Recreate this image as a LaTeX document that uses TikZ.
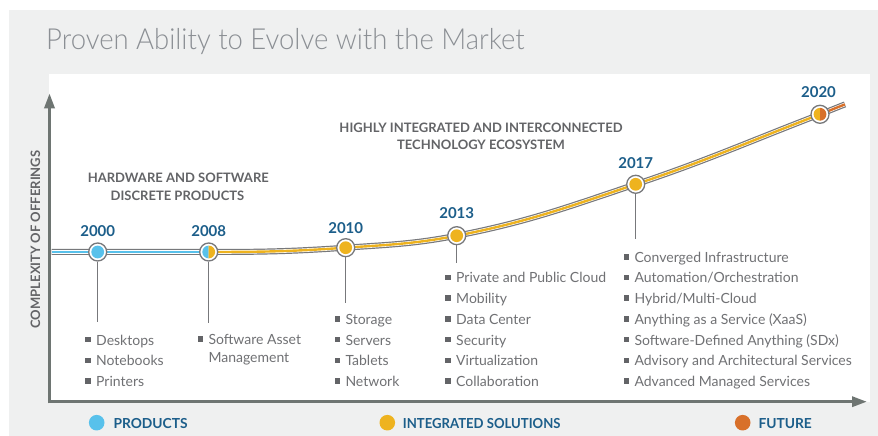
\documentclass[tikz,border=0pt]{standalone}
\usepackage{fontspec}
\setmainfont{Lato}
\newfontfamily\lightfont{Lato Light}
\usetikzlibrary{arrows.meta}
\definecolor{panelgrey}{HTML}{EFF0F0}
\definecolor{axisc}{HTML}{6E7572}
\definecolor{titlec}{HTML}{8B8F94}
\definecolor{yearc}{HTML}{1C5E8A}
\definecolor{hdrc}{HTML}{636467}
\definecolor{textc}{HTML}{707174}
\definecolor{bulc}{HTML}{636467}
\definecolor{linec}{HTML}{77787B}
\definecolor{prodc}{HTML}{58C1EB}
\definecolor{integc}{HTML}{EEB31F}
\definecolor{futc}{HTML}{D8702A}
\newcommand\bul{\makebox[0pt][r]{\textcolor{bulc}{\rule[2.7pt]{5.5pt}{5.5pt}}\hspace{5.3pt}}}
\tikzset{
  item/.style={anchor=base west, inner sep=0pt, text=textc, font=\fontsize{14}{16}\selectfont},
  hdr/.style={anchor=base, inner sep=0pt, text=hdrc, font=\bfseries\fontsize{13}{15}\selectfont},
  year/.style={anchor=base, inner sep=0pt, text=yearc, font=\bfseries\fontsize{15}{17}\selectfont},
  legtext/.style={anchor=base west, inner sep=0pt, text=yearc, font=\bfseries\fontsize{13.8}{16}\selectfont},
  milestone/.style={circle, draw=linec, line width=1.3pt, fill=white, minimum size=18pt, inner sep=0pt},
  dropline/.style={draw=linec, line width=1.4pt},
  axisline/.style={draw=axisc, line width=3.2pt, -{Triangle[length=15pt,width=10pt]}},
  legdot/.style={circle, minimum size=15.6pt, inner sep=0pt},
}
\begin{document}
\begin{tikzpicture}[x=1pt,y=1pt]
\useasboundingbox (0,0) rectangle (878,436);
\fill[white] (0,0) rectangle (878,436);
\fill[panelgrey] (9,0) rectangle (878,426);
\fill[white] (49,34) rectangle (870,362);
% title
\node[anchor=base west, inner sep=0pt, text=titlec, font=\lightfont\fontsize{29}{32}\selectfont] (title) at (46,386.5) {\scalebox{0.948}[1]{Proven Ability to Evolve with the Market}};
% axes
\coordinate (origin) at (49.5,34.3);
\coordinate (xend) at (867,34.3);
\coordinate (yend) at (49.5,342.7);
\draw[axisline] ([xshift=-1.6pt]origin) -- (xend);
\draw[axisline] ([yshift=-1.6pt]origin) -- (yend);
\node[anchor=base, rotate=90, inner sep=0pt, text=hdrc, font=\bfseries\fontsize{13}{15}\selectfont] (ylab) at (40,196.5) {COMPLEXITY OF OFFERINGS};
% curve points
\coordinate (cstart) at (51.5,184);
\coordinate (c2000) at (97.7,184);
\coordinate (c2008) at (208.7,184);
\coordinate (c2010) at (345.7,188.3);
\coordinate (c2013) at (456.7,200.3);
\coordinate (c2017) at (635.7,251.7);
\coordinate (c2020) at (820,321.7);
\coordinate (cend) at (845,331.6);
\draw[linec, line width=6pt, postaction={draw, white, line width=3.6pt}]
  (cstart) -- (c2008) to[out=0,in=184] (c2010) to[out=4,in=191] (c2013)
  to[out=11,in=198.5] (c2017) to[out=18.5,in=201] (c2020) to[out=21,in=201] (cend);
\draw[prodc, line width=2.6pt] (cstart) -- (c2008);
\draw[integc, line width=2.4pt] (c2008) to[out=0,in=184] (c2010) to[out=4,in=191] (c2013)
  to[out=11,in=198.5] (c2017) to[out=18.5,in=201] (c2020);
\draw[futc, line width=2.4pt] (c2020) to[out=21,in=201] (cend);
% drop lines
\coordinate (d2000) at (97.7,114);
\coordinate (d2008) at (208.7,113);
\coordinate (d2010) at (345.7,133);
\coordinate (d2013) at (456.7,173);
\coordinate (d2017) at (635.7,197);
% milestones
\foreach \n in {2000,2008,2010,2013,2017,2020}{
  \node[milestone] (m\n) at (c\n) {};
}
\draw[dropline] (m2000.south) -- (d2000);
\draw[dropline] (m2008.south) -- (d2008);
\draw[dropline] (m2010.south) -- (d2010);
\draw[dropline] (m2013.south) -- (d2013);
\draw[dropline] (m2017.south) -- (d2017);
\fill[prodc] (m2000.center) circle (6.4pt);
\fill[prodc] ([yshift=6.4pt]m2008.center) arc[start angle=90,end angle=270,radius=6.4pt] -- cycle;
\fill[integc] ([yshift=6.4pt]m2008.center) arc[start angle=90,end angle=-90,radius=6.4pt] -- cycle;
\fill[integc] (m2010.center) circle (6.4pt);
\fill[integc] (m2013.center) circle (6.4pt);
\fill[integc] (m2017.center) circle (6.4pt);
\fill[integc] ([yshift=6.4pt]m2020.center) arc[start angle=90,end angle=270,radius=6.4pt] -- cycle;
\fill[futc] ([yshift=6.4pt]m2020.center) arc[start angle=90,end angle=-90,radius=6.4pt] -- cycle;
% years
\node[year] (y2000) at (97.7,199.3) {2000};
\node[year] (y2008) at (208.7,199.3) {2008};
\node[year] (y2010) at (345.7,202.7) {2010};
\node[year] (y2013) at (456.7,217.3) {2013};
\node[year] (y2017) at (635.7,267.7) {2017};
\node[year] (y2020) at (818.5,338.7) {2020};
% headers
\node[hdr] (h1a) at (178.3,253.3) {HARDWARE AND SOFTWARE};
\node[hdr] (h1b) at (177.5,235) {DISCRETE PRODUCTS};
\node[hdr] (h2a) at (481,303.3) {HIGHLY INTEGRATED AND INTERCONNECTED};
\node[hdr] (h2b) at (481,286) {TECHNOLOGY ECOSYSTEM};
% lists
\foreach \t [count=\i] in {Desktops,Notebooks,Printers}{
  \node[item] (la\i) at (96,{90.9-20.7*(\i-1)}) {\bul\t};
}
\node[item] (lb1) at (208.3,91.7) {\bul Software Asset};
\node[item] (lb2) at (208.3,73.7) {Management};
\foreach \t [count=\i] in {Storage,Servers,Tablets,Network}{
  \node[item] (lc\i) at (345.3,{111.6-20.7*(\i-1)}) {\bul\t};
}
\foreach \t [count=\i] in {Private and Public Cloud,Mobility,Data Center,Security,Virtualization,Collaboration}{
  \node[item] (ld\i) at (456,{153-20.7*(\i-1)}) {\bul\t};
}
\foreach \t [count=\i] in {Converged Infrastructure,Automation/Orchestration,Hybrid/Multi-Cloud,Anything as a Service (XaaS),Software-Defined Anything (SDx),Advisory and Architectural Services,Advanced Managed Services}{
  \node[item] (le\i) at (634.3,{173.7-20.7*(\i-1)}) {\bul\t};
}
% legend
\node[legdot, fill=prodc] (dp) at (96.7,13.3) {};
\node[legtext] (tp) at (113.3,7.7) {PRODUCTS};
\node[legdot, fill=integc] (di) at (387.3,13.3) {};
\node[legtext] (ti) at (402.7,7.7) {\scalebox{0.95}[1]{INTEGRATED SOLUTIONS}};
\node[legdot, fill=futc] (df) at (742.7,13.3) {};
\node[legtext] (tf) at (758.3,7.7) {FUTURE};
\end{tikzpicture}
\end{document}
